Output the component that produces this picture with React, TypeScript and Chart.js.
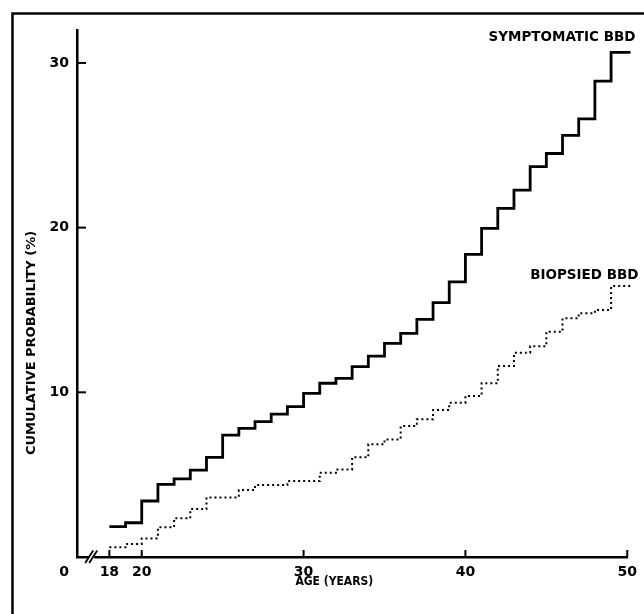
import React, { useEffect, useRef } from 'react';
import { Chart, registerables } from 'chart.js';

Chart.register(...registerables);

// Ages (years) at which each step of the symptomatic BBD curve begins
const symptomaticAges = [18, 19, 20, 21, 22, 23, 24, 25, 26, 27, 28, 29, 30, 31, 32, 33, 34, 35, 36, 37, 38, 39, 40, 41, 42, 43, 44, 45, 46, 47, 48, 49];
// Cumulative probability (%) of symptomatic BBD
const symptomatic = [1.85, 2.08, 3.4, 4.41, 4.74, 5.28, 6.05, 7.4, 7.81, 8.22, 8.68, 9.13, 9.94, 10.55, 10.85, 11.56, 12.2, 12.97, 13.58, 14.43, 15.44, 16.7, 18.38, 19.96, 21.17, 22.28, 23.7, 24.5, 25.6, 26.6, 28.9, 30.64];

// Ages at which each step of the biopsied BBD curve begins
const biopsiedAges = [18, 19, 20, 21, 22, 23, 24, 26, 27, 29, 31, 32, 33, 34, 35, 36, 37, 38, 39, 40, 41, 42, 43, 44, 45, 46, 47, 48, 49];
// Cumulative probability (%) of biopsied BBD
const biopsied = [0.59, 0.79, 1.13, 1.8, 2.35, 2.91, 3.62, 4.07, 4.37, 4.61, 5.12, 5.32, 6.05, 6.84, 7.14, 7.95, 8.36, 8.93, 9.37, 9.78, 10.55, 11.6, 12.4, 12.8, 13.68, 14.49, 14.8, 15.0, 16.45];

const lastAge = 50.2;
const xTicks = [18, 20, 30, 40, 50];
const yTicks = [10, 20, 30];
const xMin = 16;
const xMax = 50;
const yMin = 0;
const yMax = 32;
const breakAge = 17;

const seriesLabels = ['SYMPTOMATIC BBD', 'BIOPSIED BBD'];
const xTitle = 'AGE (YEARS)';
const yTitle = 'CUMULATIVE PROBABILITY (%)';
const originLabel = '0';

const FONT = '"DejaVu Sans", sans-serif';

function toPoints(xs: number[], ys: number[]) {
  const pts = xs.map((x, i) => ({ x, y: ys[i] }));
  pts.push({ x: lastAge, y: ys[ys.length - 1] });
  return pts;
}

const decorPlugin = {
  id: 'decor',
  afterDraw(chart: any) {
    const { ctx } = chart;
    const x = chart.scales.x;
    const y = chart.scales.y;
    ctx.save();
    ctx.strokeStyle = '#000';
    ctx.fillStyle = '#000';
    ctx.lineCap = 'butt';

    // frame (left and top)
    ctx.lineWidth = 2.5;
    ctx.beginPath();
    ctx.moveTo(12.5, 614);
    ctx.lineTo(12.5, 13.5);
    ctx.lineTo(644, 13.5);
    ctx.stroke();

    // inward tick marks
    ctx.lineWidth = 2;
    const bottom = y.getPixelForValue(yMin);
    const left = x.getPixelForValue(xMin);
    x.ticks.forEach((t: any) => {
      const px = x.getPixelForValue(t.value);
      ctx.beginPath();
      ctx.moveTo(px, bottom);
      ctx.lineTo(px, bottom - 7);
      ctx.stroke();
    });
    y.ticks.forEach((t: any) => {
      const py = y.getPixelForValue(t.value);
      ctx.beginPath();
      ctx.moveTo(left, py);
      ctx.lineTo(left + 9, py);
      ctx.stroke();
    });

    // axis break
    const bx = x.getPixelForValue(breakAge);
    ctx.fillStyle = '#fff';
    ctx.fillRect(bx - 4, bottom - 2, 5, 4);
    ctx.fillStyle = '#000';
    ctx.lineWidth = 1.8;
    [-6, -2].forEach((dx) => {
      ctx.beginPath();
      ctx.moveTo(bx + dx - 2, bottom + 6);
      ctx.lineTo(bx + dx + 6, bottom - 6.5);
      ctx.stroke();
    });

    // origin label
    ctx.font = `bold 14px ${FONT}`;
    ctx.textAlign = 'center';
    ctx.textBaseline = 'middle';
    ctx.fillText(originLabel, left - 13, bottom + 15);

    // series labels
    ctx.font = `bold 13.5px ${FONT}`;
    ctx.textAlign = 'right';
    const sPts = chart.getDatasetMeta(0).data;
    const bPts = chart.getDatasetMeta(1).data;
    const sEnd = sPts[sPts.length - 1];
    const bEnd = bPts[bPts.length - 1];
    ctx.fillText(seriesLabels[0], sEnd.x + 5, sEnd.y - 15);
    ctx.fillText(seriesLabels[1], bEnd.x + 8, bEnd.y - 11);

    // axis titles
    ctx.textAlign = 'center';
    ctx.font = `bold 12px "DejaVu Sans Condensed", ${FONT}`;
    ctx.fillText(xTitle, x.getPixelForValue(31.9), bottom + 25);
    ctx.save();
    ctx.translate(32, y.getPixelForValue(13.0));
    ctx.rotate(-Math.PI / 2);
    ctx.font = `bold 13px ${FONT}`;
    ctx.fillText(yTitle, 0, 0);
    ctx.restore();

    ctx.restore();
  },
};

export default function App() {
  const canvasRef = useRef<HTMLCanvasElement | null>(null);

  useEffect(() => {
    const canvas = canvasRef.current;
    if (!canvas) return;
    const chart = new Chart(canvas, {
      type: 'line',
      data: {
        datasets: [
          {
            label: seriesLabels[0],
            data: toPoints(symptomaticAges, symptomatic),
            borderColor: '#000',
            borderWidth: 2.8,
            stepped: 'before',
            pointRadius: 0,
            fill: false,
            clip: false as any,
          },
          {
            label: seriesLabels[1],
            data: toPoints(biopsiedAges, biopsied),
            borderColor: '#000',
            borderWidth: 2,
            borderDash: [2, 3],
            stepped: 'before',
            pointRadius: 0,
            fill: false,
            clip: false as any,
          },
        ],
      },
      options: {
        animation: false,
        responsive: false,
        maintainAspectRatio: false,
        events: [],
        layout: { padding: { left: 0, right: 11, top: 30, bottom: 0 } },
        plugins: {
          legend: { display: false },
          tooltip: { enabled: false },
          title: { display: false },
        },
        scales: {
          x: {
            type: 'linear',
            min: xMin,
            max: xMax,
            afterBuildTicks: (scale: any) => {
              scale.ticks = xTicks.map((v) => ({ value: v }));
            },
            afterFit: (scale: any) => {
              scale.height = 57;
            },
            grid: { display: false, drawTicks: false, drawOnChartArea: false },
            border: { display: true, color: '#000', width: 2.5 },
            ticks: {
              autoSkip: false,
              maxRotation: 0,
              padding: 7,
              color: '#000',
              font: { family: FONT, size: 14, weight: 'bold' },
            },
          },
          y: {
            type: 'linear',
            min: yMin,
            max: yMax,
            afterBuildTicks: (scale: any) => {
              scale.ticks = yTicks.map((v) => ({ value: v }));
            },
            afterFit: (scale: any) => {
              scale.width = 77;
            },
            grid: { display: false, drawTicks: false, drawOnChartArea: false },
            border: { display: true, color: '#000', width: 2.5 },
            ticks: {
              autoSkip: false,
              padding: 8,
              color: '#000',
              font: { family: FONT, size: 14, weight: 'bold' },
            },
          },
        },
      },
      plugins: [decorPlugin],
    });
    return () => chart.destroy();
  }, []);

  return (
    <div style={{ position: 'absolute', left: 0, top: 0, width: 644, height: 614, background: '#fff' }}>
      <canvas ref={canvasRef} width={644} height={614} style={{ width: 644, height: 614, display: 'block' }} />
    </div>
  );
}
